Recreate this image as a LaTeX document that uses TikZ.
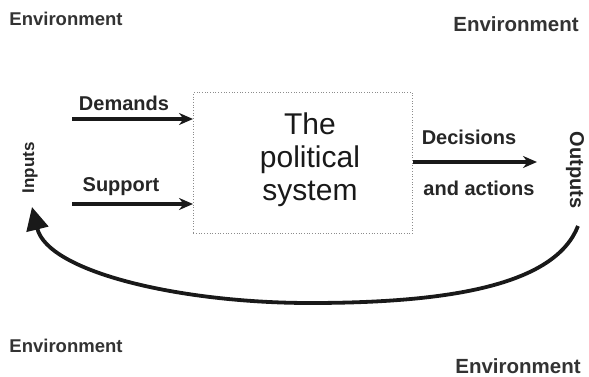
\documentclass[tikz,border=0pt]{standalone}
\usepackage{fontspec}
\setmainfont{Liberation Sans}
\usetikzlibrary{arrows.meta}
\begin{document}
\begin{tikzpicture}[x=1pt,y=-1pt,
  lbl/.style={font=\fontsize{20}{22}\selectfont\bfseries, text=black!85, inner sep=0pt},
  envlbl/.style={font=\fontsize{18.5}{22}\selectfont\bfseries, text=black!80, inner sep=0pt},
  sysbox/.style={draw=black!45, dotted, line width=0.7pt, minimum width=219pt, minimum height=141pt, inner sep=0pt},
  flow/.style={draw=black!90, line width=3.4pt, -{Stealth[length=14pt,width=12pt]}},
  fb/.style={draw=black!90, line width=3.8pt, -{Triangle[length=23pt,width=22pt]}}
]
\useasboundingbox (0,0) rectangle (589,377);

% environment labels
\node[envlbl] (envTL) at (66,19) {Environment};
\node[envlbl, font=\fontsize{20.5}{22}\selectfont\bfseries] (envTR) at (516,24) {Environment};
\node[envlbl] (envBL) at (66,346) {Environment};
\node[envlbl, font=\fontsize{20.5}{22}\selectfont\bfseries] (envBR) at (518,366) {Environment};

% the system box
\node[sysbox, anchor=north west] (box) at (193,92) {};
\node[inner sep=0pt, align=center, font=\fontsize{30}{33}\selectfont, text=black!90] (sys) at (310,160) {The\\political\\system};

% input labels and arrows
\node[lbl] (demL) at (124,103) {Demands};
\node[lbl] (supL) at (121,187) {Support};
\coordinate (demS) at (72,119);
\coordinate (supS) at (72,204);
\draw[flow] (demS) -- (box.west |- demS);
\draw[flow] (supS) -- (box.west |- supS);

% output labels and arrow
\node[lbl] (decL) at (469,137) {Decisions};
\node[lbl] (actL) at (479,188) {and actions};
\coordinate (decE) at (537,162);
\draw[flow] (box.east |- decE) -- (decE);

% vertical labels
\node[lbl, font=\fontsize{17}{20}\selectfont\bfseries, rotate=90] (inL) at (30,168) {Inputs};
\node[lbl, font=\fontsize{20}{22}\selectfont\bfseries, rotate=-90] (outL) at (575,170) {Outputs};

% feedback curve
\coordinate (fbS) at (578,226);
\coordinate (fbM) at (310,303);
\coordinate (fbE) at (32,207);
\draw[fb] (fbS) .. controls (555,285) and (450,303) .. (fbM)
  .. controls (180,303) and (48,272) .. (fbE);
\end{tikzpicture}
\end{document}
